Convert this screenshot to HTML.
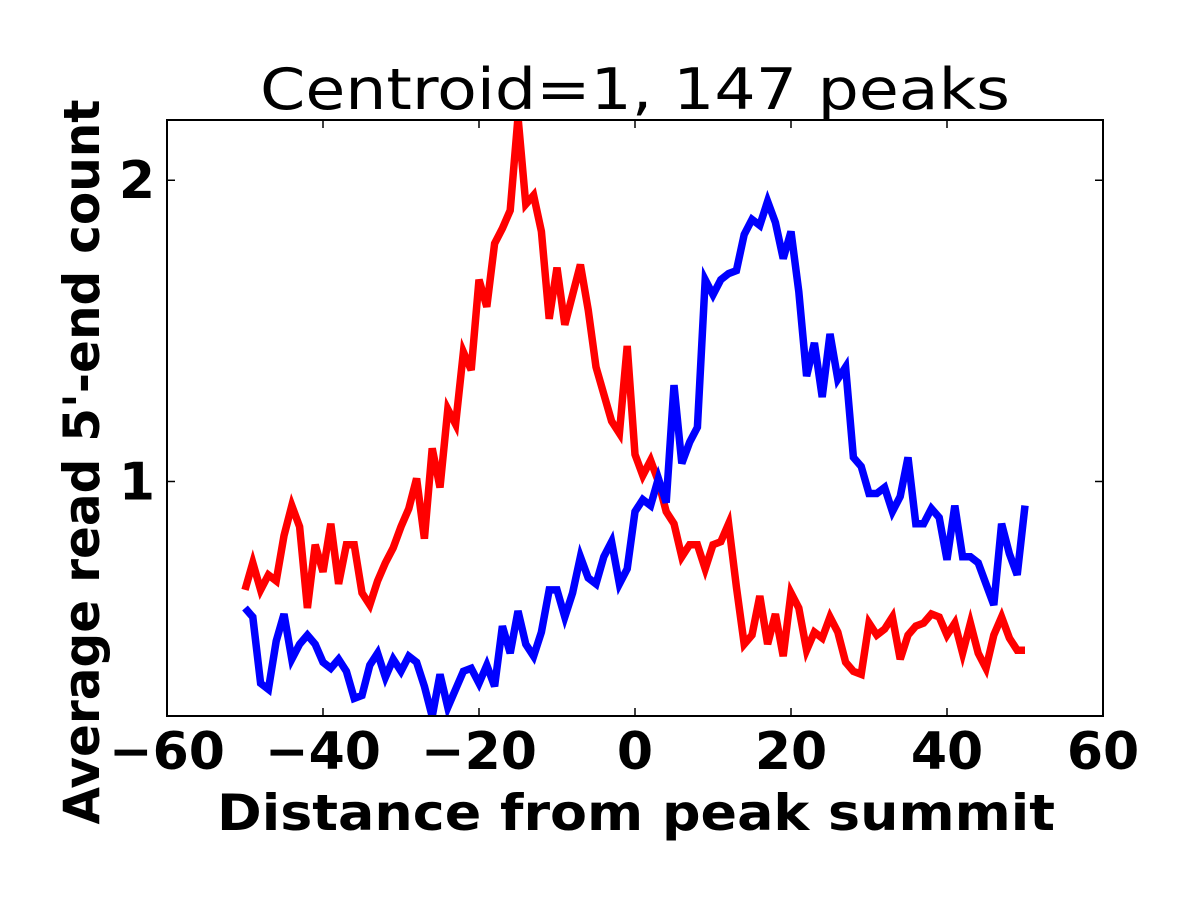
<!DOCTYPE html>
<html><head><meta charset="utf-8"><style>
html,body{margin:0;padding:0;background:#fff;}
svg text{font-family:"DejaVu Sans","Liberation Sans",sans-serif;}
</style></head><body>
<svg id="chart" width="1200" height="900" xmlns="http://www.w3.org/2000/svg">
<defs><clipPath id="clip"><rect x="167" y="120" width="936" height="596"/></clipPath></defs>
<rect x="0" y="0" width="1200" height="900" fill="#fff"/>
<text x="635" y="109" font-size="57" text-anchor="middle" textLength="750" lengthAdjust="spacingAndGlyphs">Centroid=1, 147 peaks</text>
<g id="series" clip-path="url(#clip)"></g>
<rect x="167" y="120" width="936" height="596" fill="none" stroke="#000" stroke-width="2"/>
<g id="axes"></g>
<text x="636" y="830" font-size="50" font-weight="bold" text-anchor="middle" textLength="838" lengthAdjust="spacingAndGlyphs">Distance from peak summit</text>
<text transform="translate(99,462) rotate(-90)" font-size="50" font-weight="bold" text-anchor="middle" textLength="725" lengthAdjust="spacingAndGlyphs">Average read 5'-end count</text>
</svg>
<script>
const xTicks = [-60, -40, -20, 0, 20, 40, 60];
const yTicks = [1, 2];
const redValues = [0.64,0.73,0.64,0.69,0.67,0.82,0.92,0.85,0.58,0.79,0.70,0.86,0.66,0.79,0.79,0.63,0.59,0.67,0.73,0.78,0.85,0.91,1.01,0.81,1.11,0.98,1.24,1.19,1.43,1.37,1.67,1.58,1.79,1.84,1.90,2.21,1.92,1.95,1.83,1.54,1.71,1.52,1.62,1.72,1.57,1.38,1.29,1.20,1.16,1.45,1.09,1.02,1.07,1.00,0.90,0.86,0.75,0.79,0.79,0.71,0.79,0.80,0.86,0.65,0.46,0.49,0.62,0.46,0.56,0.42,0.63,0.58,0.44,0.50,0.48,0.55,0.50,0.40,0.37,0.36,0.53,0.49,0.51,0.55,0.41,0.49,0.52,0.53,0.56,0.55,0.49,0.53,0.43,0.53,0.43,0.38,0.49,0.55,0.48,0.44,0.44];
const blueValues = [0.58,0.55,0.33,0.31,0.47,0.56,0.41,0.46,0.49,0.46,0.40,0.38,0.41,0.37,0.28,0.29,0.39,0.43,0.35,0.41,0.37,0.42,0.40,0.32,0.22,0.36,0.25,0.31,0.37,0.38,0.33,0.39,0.32,0.52,0.43,0.57,0.46,0.42,0.50,0.64,0.64,0.55,0.63,0.75,0.68,0.66,0.75,0.80,0.66,0.71,0.90,0.94,0.92,1.01,0.93,1.32,1.06,1.13,1.18,1.67,1.62,1.67,1.69,1.70,1.82,1.87,1.85,1.93,1.86,1.74,1.83,1.63,1.35,1.46,1.28,1.49,1.34,1.38,1.08,1.05,0.96,0.96,0.98,0.90,0.95,1.08,0.86,0.86,0.91,0.88,0.74,0.92,0.75,0.75,0.73,0.66,0.59,0.86,0.76,0.69,0.92];
const xStart = -50;

const L=167,R=1103,T=120,B=716, XMIN=-60,XMAX=60,YMIN=0.2215,YMAX=2.2;
const sx = v => L + (v - XMIN) / (XMAX - XMIN) * (R - L);
const sy = v => B - (v - YMIN) / (YMAX - YMIN) * (B - T);
const NS = "http://www.w3.org/2000/svg";
const series = document.getElementById('series');
const axes = document.getElementById('axes');

function drawLine(vals, color, name){
  const p = document.createElementNS(NS,'polyline');
  p.setAttribute('points', vals.map((v,i)=>sx(xStart+i).toFixed(1)+','+sy(v).toFixed(1)).join(' '));
  p.setAttribute('fill','none');
  p.setAttribute('stroke',color);
  p.setAttribute('stroke-width','7.5');
  p.setAttribute('stroke-linejoin','miter');
  
  
  series.appendChild(p);
}
drawLine(redValues,'#ff0000','red-series-line');
drawLine(blueValues,'#0000ff','blue-series-line');

function line(x1,y1,x2,y2){
  const l=document.createElementNS(NS,'line');
  l.setAttribute('x1',x1);l.setAttribute('y1',y1);l.setAttribute('x2',x2);l.setAttribute('y2',y2);
  l.setAttribute('stroke','#000');l.setAttribute('stroke-width','1.5');
  
  
  axes.appendChild(l);
}
xTicks.forEach(t=>{
  const x=sx(t);
  line(x,B,x,B-8); line(x,T,x,T+8);
  const tx=document.createElementNS(NS,'text');
  tx.setAttribute('x',x);tx.setAttribute('y',B+53);
  tx.setAttribute('font-size','52');tx.setAttribute('font-weight','bold');tx.setAttribute('text-anchor','middle');
  tx.textContent = t<0 ? '\u2212'+Math.abs(t) : String(t);
  
  
  axes.appendChild(tx);
});
yTicks.forEach(t=>{
  const y=sy(t);
  line(L,y,L+8,y); line(R,y,R-8,y);
  const tx=document.createElementNS(NS,'text');
  tx.setAttribute('x',L-12);tx.setAttribute('y',y+18);
  tx.setAttribute('font-size','52');tx.setAttribute('font-weight','bold');tx.setAttribute('text-anchor','end');
  tx.textContent = String(t);
  
  
  axes.appendChild(tx);
});
</script>
</body></html>
